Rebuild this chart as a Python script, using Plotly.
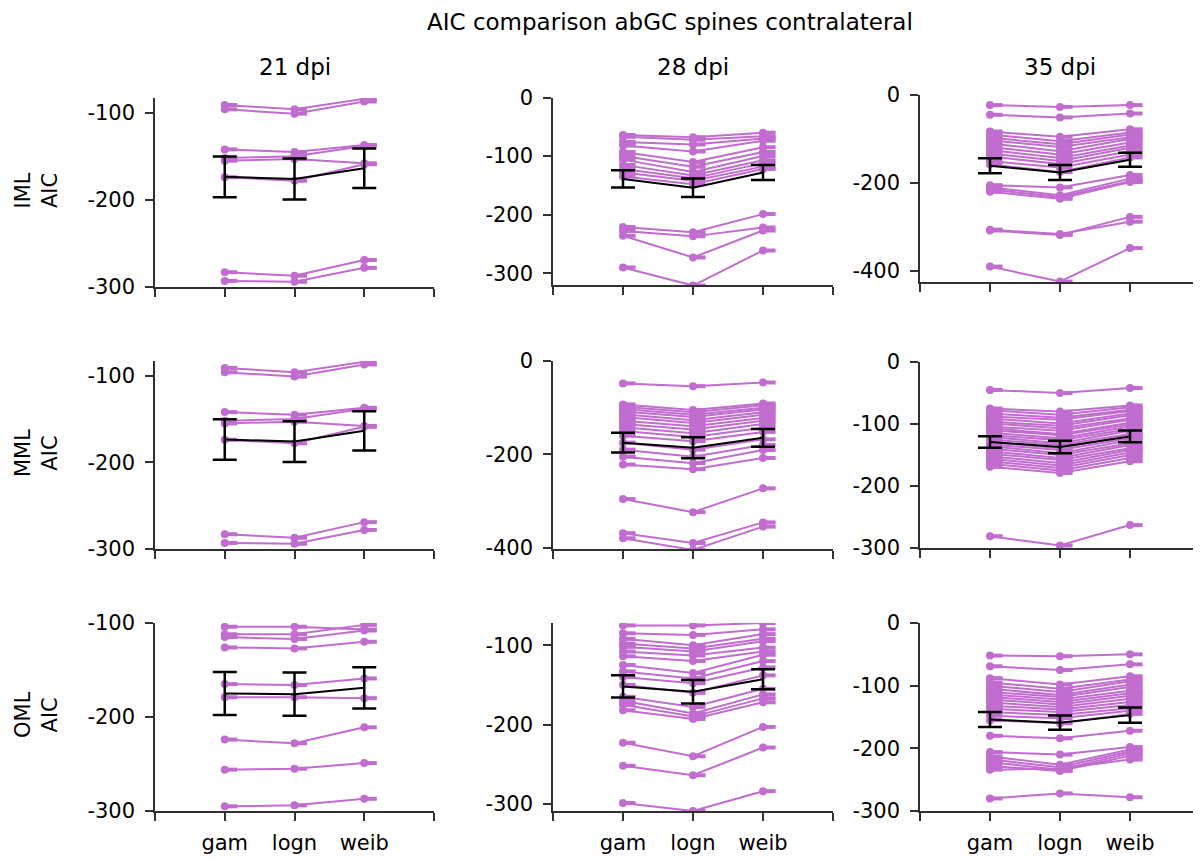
import plotly.graph_objects as go
from plotly.subplots import make_subplots

SW, SH = 1201, 859          # browser window
OFF = 8                     # default body margin of the page
W, H = SW - OFF, SH - OFF   # figure size so that it fills the window

categories = ["gam", "logn", "weib"]
x_pos = [1, 2, 3]
x_tickvals = [0, 1, 2, 3, 4]

# ---- individual curves: each row = (gam, logn, weib) ----
iml21 = [(-91, -96, -84), (-96, -101, -87), (-142, -145, -137), (-152, -150, -138),
         (-155, -153, -158), (-174, -178, -159), (-283, -287, -269), (-293, -294, -278)]
iml28 = [(-64, -68, -60), (-67, -72, -66), (-76, -80, -70), (-82, -92, -74), (-93, -110, -85),
         (-100, -118, -93), (-106, -127, -100), (-115, -133, -107), (-122, -138, -112),
         (-128, -142, -118), (-135, -148, -122), (-221, -230, -199), (-228, -237, -222),
         (-236, -273, -227), (-290, -321, -261)]
iml35 = [(-23, -27, -23), (-45, -51, -42), (-83, -95, -78), (-90, -105, -85), (-97, -112, -90),
         (-103, -118, -96), (-110, -128, -100), (-118, -135, -108), (-125, -143, -115),
         (-133, -150, -120), (-140, -157, -128), (-150, -165, -135), (-158, -175, -142),
         (-205, -210, -182), (-210, -228, -190), (-215, -232, -196), (-220, -236, -198),
         (-308, -318, -277), (-306, -316, -288), (-390, -424, -348)]
mml21 = iml21
mml28 = [(-48, -54, -46), (-93, -105, -91), (-98, -110, -95), (-103, -115, -100), (-108, -120, -104),
         (-114, -127, -110), (-120, -133, -115), (-128, -140, -122), (-135, -147, -128),
         (-142, -155, -135), (-150, -163, -143), (-160, -172, -152), (-175, -190, -168),
         (-190, -205, -180), (-205, -219, -191), (-222, -232, -208), (-296, -324, -273),
         (-369, -390, -346), (-380, -405, -355)]
mml35 = [(-45, -50, -42), (-75, -80, -70), (-78, -85, -73), (-83, -90, -77), (-88, -93, -79),
         (-91, -99, -83), (-96, -103, -86), (-99, -107, -91), (-104, -111, -93), (-107, -116, -98),
         (-110, -118, -101), (-114, -123, -104), (-118, -126, -108), (-121, -131, -111),
         (-125, -134, -116), (-129, -139, -118), (-133, -142, -123), (-136, -147, -126),
         (-140, -150, -131), (-144, -155, -134), (-148, -158, -139), (-152, -163, -142),
         (-156, -167, -146), (-160, -171, -150), (-164, -175, -155), (-169, -179, -160),
         (-281, -296, -263)]
oml21 = [(-104, -104, -107), (-112, -112, -102), (-115, -117, -108), (-126, -127, -120),
         (-165, -166, -159), (-179, -179, -180), (-224, -228, -211), (-256, -255, -249),
         (-295, -294, -287)]
oml28 = [(-75, -75, -72), (-85, -87, -80), (-92, -100, -86), (-98, -104, -92), (-102, -108, -95),
         (-108, -113, -103), (-114, -120, -108), (-125, -135, -112), (-133, -142, -120),
         (-140, -148, -128), (-150, -160, -138), (-165, -178, -155), (-170, -186, -162),
         (-175, -190, -167), (-182, -193, -172), (-223, -240, -203), (-252, -264, -229),
         (-299, -309, -284)]
oml35 = [(-52, -53, -50), (-69, -75, -66), (-88, -98, -85), (-95, -105, -90), (-100, -110, -93),
         (-105, -115, -98), (-110, -118, -102), (-114, -122, -108), (-118, -126, -112),
         (-122, -130, -116), (-127, -134, -121), (-132, -138, -126), (-137, -142, -131),
         (-142, -147, -136), (-148, -152, -140), (-155, -160, -145), (-180, -184, -172),
         (-206, -210, -198), (-213, -226, -202), (-218, -230, -205), (-222, -234, -208),
         (-228, -236, -212), (-234, -232, -218), (-280, -272, -278)]

# ---- mean +/- sem ----
mean_iml21 = [-173.5, -176, -163.6]; err_iml21 = [23.4, 23.5, 22.6]
mean_iml28 = [-139, -154, -128];     err_iml28 = [14.8, 15.7, 12.8]
mean_iml35 = [-161, -176, -147];     err_iml35 = [17, 17, 16]
mean_mml21 = mean_iml21;             err_mml21 = err_iml21
mean_mml28 = [-175, -186, -164.6];   err_mml28 = [21.4, 22.5, 19]
mean_mml35 = [-129, -137, -120];     err_mml35 = [9.4, 10, 9.4]
mean_oml21 = [-175, -175.7, -169];   err_oml21 = [23, 23, 22]
mean_oml28 = [-152, -158.7, -143];   err_oml28 = [14, 14.7, 12.6]
mean_oml35 = [-154, -159, -147];     err_oml35 = [12, 11.5, 12]

# ---- axis ranges / ticks ----
y_ranges = [[-300, -83], [-320, 0], [-425, 0],
            [-300, -83], [-403, 0], [-300, 0],
            [-300, -100], [-309, -72], [-300, 0]]
y_ticks = [[-300, -200, -100], [-300, -200, -100, 0], [-400, -200, 0],
           [-300, -200, -100], [-400, -200, 0], [-300, -200, -100, 0],
           [-300, -200, -100], [-300, -200, -100], [-300, -200, -100, 0]]

col_titles = ["21 dpi", "28 dpi", "35 dpi"]
row_labels = ["IML", "MML", "OML"]
title_text = "AIC comparison abGC spines contralateral"

panels = [(iml21, mean_iml21, err_iml21), (iml28, mean_iml28, err_iml28), (iml35, mean_iml35, err_iml35),
          (mml21, mean_mml21, err_mml21), (mml28, mean_mml28, err_mml28), (mml35, mean_mml35, err_mml35),
          (oml21, mean_oml21, err_oml21), (oml28, mean_oml28, err_oml28), (oml35, mean_oml35, err_oml35)]

# screen-pixel layout of the panels
col_px = [(155, 434), (553, 833), (920, 1200)]
row_px = [[(98, 287), (97.5, 285), (95, 282)],
          [(361, 549), (361, 549), (362, 548)],
          [(623, 811), (623, 811), (623, 811)]]


def fx(px):
    return (px - OFF) / W


def fy(py):
    return 1 - (py - OFF) / H


PURPLE = "rgb(193,108,207)"
AXC = "#303030"
FONT = "DejaVu Sans"
STUB = 0.18

fig = make_subplots(rows=3, cols=3)

for i, (curves, mean, err) in enumerate(panels):
    r, c = i // 3 + 1, i % 3 + 1
    lx, ly, sx, sy = [], [], [], []
    for cv in curves:
        for k in range(3):
            lx.append(x_pos[k]); ly.append(cv[k])
            sx += [x_pos[k], x_pos[k] + STUB, None]
            sy += [cv[k], cv[k], None]
        lx.append(None); ly.append(None)
    fig.add_trace(go.Scatter(x=sx, y=sy, mode="lines", line=dict(color=PURPLE, width=4),
                             hoverinfo="skip", showlegend=False), row=r, col=c)
    fig.add_trace(go.Scatter(x=lx, y=ly, mode="lines+markers", line=dict(color=PURPLE, width=2),
                             marker=dict(color=PURPLE, size=8), showlegend=False), row=r, col=c)
    fig.add_trace(go.Scatter(x=x_pos, y=mean, mode="lines", line=dict(color="black", width=2),
                             error_y=dict(type="data", array=err, visible=True, color="black",
                                          thickness=2.5, width=12),
                             showlegend=False), row=r, col=c)

for i in range(9):
    r, c = i // 3, i % 3
    x0, x1 = col_px[c]
    y0, y1 = row_px[r][c]
    n = "" if i == 0 else str(i + 1)
    ticktext = ["", *categories, ""] if r == 2 else [""] * 5
    fig.layout["xaxis" + n].update(
        domain=[fx(x0), fx(x1)], range=[0, 4], tickvals=x_tickvals, ticktext=ticktext,
        showline=True, linecolor=AXC, linewidth=1.5, ticks="outside", ticklen=8,
        tickcolor=AXC, tickwidth=1.5, showgrid=False, zeroline=False, automargin=False,
        tickfont=dict(family=FONT, size=21, color="black"), ticklabelstandoff=4)
    fig.layout["yaxis" + n].update(
        domain=[fy(y1), fy(y0)], range=y_ranges[i], tickvals=y_ticks[i],
        ticktext=[str(v) for v in y_ticks[i]],
        showline=True, linecolor=AXC, linewidth=1.5, ticks="outside", ticklen=8,
        tickcolor=AXC, tickwidth=1.5, showgrid=False, zeroline=False, automargin=False,
        tickfont=dict(family=FONT, size=21, color="black"), ticklabelstandoff=6)

ann = []
ann.append(dict(text=title_text, x=fx(670), y=fy(22), xref="paper", yref="paper",
                showarrow=False, font=dict(family=FONT, size=23, color="black"),
                xanchor="center", yanchor="middle"))
for c, t in enumerate(col_titles):
    cx = (col_px[c][0] + col_px[c][1]) / 2
    ann.append(dict(text=t, x=fx(cx), y=fy(67), xref="paper", yref="paper",
                    showarrow=False, font=dict(family=FONT, size=23, color="black"),
                    xanchor="center", yanchor="middle"))
for r, t in enumerate(row_labels):
    cy = (row_px[r][0][0] + row_px[r][0][1]) / 2
    ann.append(dict(text=t + "<br>AIC", x=fx(36), y=fy(cy - 2), xref="paper", yref="paper",
                    showarrow=False, textangle=-90, font=dict(family=FONT, size=21, color="black"),
                    xanchor="center", yanchor="middle"))

fig.update_layout(width=W, height=H,
                  margin=dict(l=0, r=0, t=0, b=0, pad=0, autoexpand=False),
                  plot_bgcolor="white", paper_bgcolor="white", annotations=ann,
                  showlegend=False)
fig.write_html("out.html")
